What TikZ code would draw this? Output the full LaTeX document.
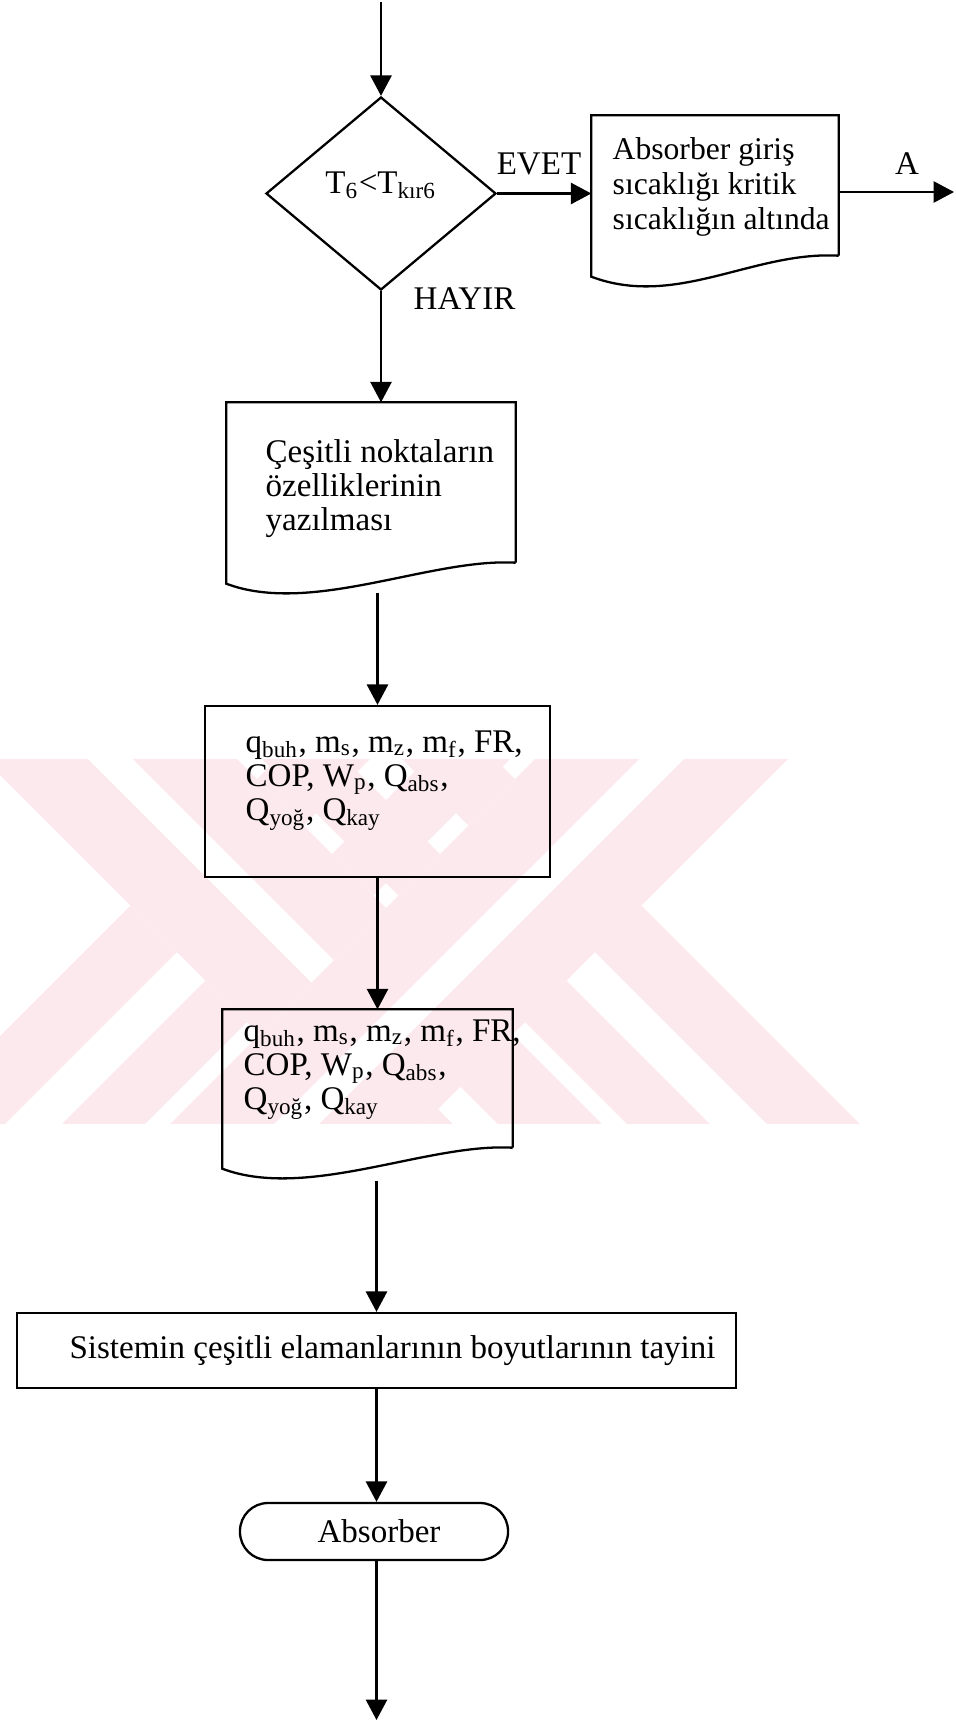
\documentclass[tikz,border=0pt]{standalone}
\usepackage{fontspec}
\setmainfont{Liberation Serif}
\usetikzlibrary{shapes.geometric,arrows.meta,calc}

\definecolor{wmpink}{RGB}{252,233,238}

\tikzset{
	arr/.style={line width=0.65pt, -{Triangle[length=5.8pt,width=6pt]}},
	frame/.style={line width=0.65pt},
	lbl/.style={inner sep=0pt},
	txt/.style={inner sep=0pt, align=left, anchor=north west},
}

% document symbol: top, sides and the wavy bottom edge
\newcommand{\docedge}[1]{%
	\draw[frame] (#1.south east) -- (#1.north east) -- (#1.north west)
		-- ($(#1.south west)+(0,-0.21)$) .. controls +(0.85,-0.32) and +(-0.85,0.05) .. (#1.south east);}

\newcommand{\paramlist}{q\textsubscript{buh}, m\textsubscript{s}, m\textsubscript{z}, m\textsubscript{f}, FR,\\
	COP, W\textsubscript{p}, Q\textsubscript{abs},\\
	Q\textsubscript{yoğ}, Q\textsubscript{kay}}

\begin{document}
\begin{tikzpicture}[font=\fontsize{9.4}{9.7}\selectfont]
	\useasboundingbox (0,0) rectangle (9.56,-17.35);

	% background mark: two crossed pairs of stripes
	\begin{scope}
		\clip (0,-7.59) rectangle (9.56,-11.23);
		% left pair
		\fill[wmpink] (4.86,-7.00) -- (5.69,-7.00) -- (0.89,-11.80) -- (0.06,-11.80) -- cycle;
		\fill[wmpink] (3.36,-7.00) -- (4.29,-7.00) -- (-0.51,-11.80) -- (-1.44,-11.80) -- cycle;
		\fill[white] (-0.75,-7.00) -- (1.78,-7.00) -- (6.58,-11.80) -- (4.05,-11.80) -- cycle;
		\fill[wmpink] (-0.75,-7.00) -- (0.29,-7.00) -- (5.09,-11.80) -- (4.05,-11.80) -- cycle;
		\fill[wmpink] (0.74,-7.00) -- (1.78,-7.00) -- (6.58,-11.80) -- (5.54,-11.80) -- cycle;
		% right pair
		\fill[wmpink] (2.03,-7.00) -- (2.86,-7.00) -- (7.66,-11.80) -- (6.83,-11.80) -- cycle;
		\fill[wmpink] (3.43,-7.00) -- (4.36,-7.00) -- (9.16,-11.80) -- (8.23,-11.80) -- cycle;
		\fill[white] (5.94,-7.00) -- (8.47,-7.00) -- (3.67,-11.80) -- (1.14,-11.80) -- cycle;
		\fill[wmpink] (5.94,-7.00) -- (6.98,-7.00) -- (2.18,-11.80) -- (1.14,-11.80) -- cycle;
		\fill[wmpink] (7.43,-7.00) -- (8.47,-7.00) -- (3.67,-11.80) -- (2.63,-11.80) -- cycle;
	\end{scope}

	% shapes
	\node[diamond, draw, frame, minimum width=2.30cm, minimum height=1.93cm, inner sep=0pt] (dec) at (3.81,-1.935) {};
	\node[minimum width=2.46cm, minimum height=1.39cm, inner sep=0pt] (box1) at (7.15,-1.855) {};
	\node[minimum width=2.88cm, minimum height=1.59cm, inner sep=0pt] (box2) at (3.71,-4.825) {};
	\node[draw, frame, minimum width=3.45cm, minimum height=1.71cm, inner sep=0pt] (box3) at (3.775,-7.915) {};
	\node[minimum width=2.89cm, minimum height=1.37cm, inner sep=0pt] (box4) at (3.675,-10.785) {};
	\node[draw, frame, minimum width=7.19cm, minimum height=0.75cm, inner sep=0pt] (box5) at (3.765,-13.505) {};
	\node[draw, frame, rounded corners=0.28cm, minimum width=2.68cm, minimum height=0.57cm, inner sep=0pt] (term) at (3.74,-15.315) {};
	\docedge{box1}
	\docedge{box2}
	\docedge{box4}

	% texts
	\node[lbl] (cond) at ($(dec.center)+(0,0.08)$) {T\textsubscript{6}<T\textsubscript{kır6}};
	\node[txt, font=\fontsize{9}{10}\selectfont] (t1) at (6.12,-1.37) {Absorber giriş\\sıcaklığı kritik\\sıcaklığın altında};
	\node[txt] (t2) at (2.65,-4.39) {Çeşitli noktaların\\özelliklerinin\\yazılması};
	\node[txt] (t3) at (2.45,-7.30) {\paramlist};
	\node[txt] (t4) at (2.43,-10.19) {\paramlist};
	\node[lbl] (t5) at ($(box5.center)+(0.16,0)$) {Sistemin çeşitli elamanlarının boyutlarının tayini};
	\node[lbl] (t6) at ($(term.center)+(0.05,0)$) {Absorber};
	\node[lbl, anchor=south] (evet) at (5.39,-1.76) {EVET};
	\node[lbl, anchor=south] (alabel) at (9.07,-1.75) {A};
	\node[lbl, anchor=south west] (hayir) at (4.13,-3.10) {HAYIR};

	% connectors
	\coordinate (in) at (3.81,-0.02);
	\coordinate (aout) at (9.54,-1.92);
	\coordinate (out) at (3.765,-17.20);
	\draw[arr] (in) -- (dec.north);
	\draw[arr] (dec.east) -- (dec.east -| box1.west);
	\draw[arr] (aout -| box1.east) -- (aout);
	\draw[arr] (dec.south) -- (dec.south |- box2.north);
	\draw[arr] ($(box3.north |- box2.south)+(0,-0.30)$) -- (box3.north);
	\draw[arr] (box3.south) -- (box3.south |- box4.north);
	\draw[arr] ($(box5.north |- box4.south)+(0,-0.33)$) -- (box5.north);
	\draw[arr] (box5.south) -- (box5.south |- term.north);
	\draw[arr] (box5.south |- term.south) -- (out);
\end{tikzpicture}
\end{document}
